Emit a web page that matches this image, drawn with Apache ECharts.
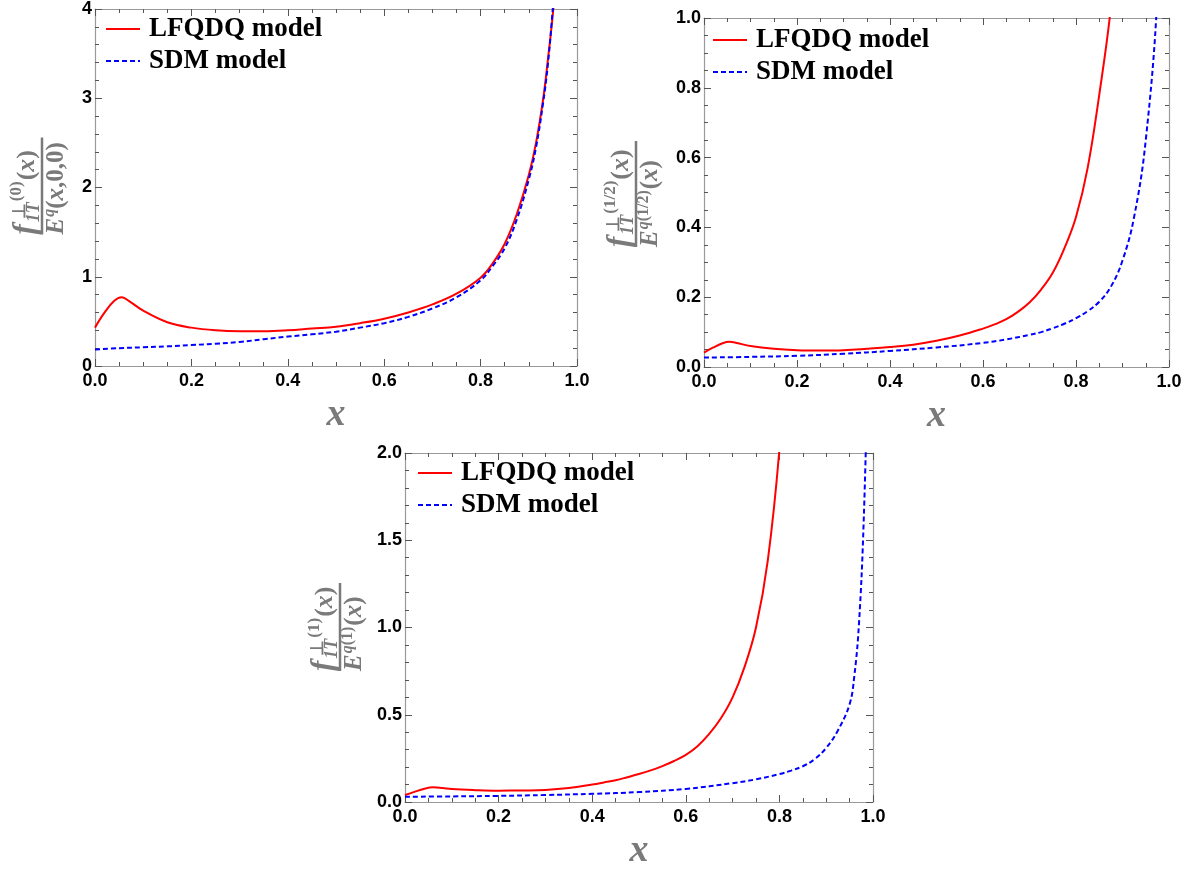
<!DOCTYPE html>
<html>
<head>
<meta charset="utf-8">
<script src="https://cdn.jsdelivr.net/npm/echarts@6/dist/echarts.min.js"></script>
<style>html,body{margin:0;padding:0;background:#fff;}#c{width:1188px;height:873px;}</style>
</head>
<body>
<div id="c"></div>
<script>
// ---------------- DATA ----------------
const seriesNames = ['LFQDQ model', 'SDM model'];
const xTickLabels = ['0.0', '0.2', '0.4', '0.6', '0.8', '1.0'];
const yTickLabels1 = ['0', '1', '2', '3', '4'];
const yTickLabels2 = ['0.0', '0.2', '0.4', '0.6', '0.8', '1.0'];
const yTickLabels3 = ['0.0', '0.5', '1.0', '1.5', '2.0'];

// Panel 1 (ratio with E^q(x,0,0))
const p1RedX = [0, 0.02, 0.04, 0.055, 0.07, 0.1, 0.15, 0.2, 0.25, 0.3, 0.35, 0.4, 0.45, 0.5, 0.55, 0.6, 0.65, 0.7, 0.75, 0.8, 0.825, 0.85, 0.875, 0.9, 0.915, 0.93, 0.94, 0.95, 0.96];
const p1RedY = [0.43, 0.6, 0.73, 0.77, 0.73, 0.62, 0.49, 0.43, 0.40, 0.39, 0.39, 0.40, 0.42, 0.44, 0.48, 0.53, 0.60, 0.69, 0.81, 0.99, 1.15, 1.37, 1.70, 2.14, 2.5, 3.0, 3.45, 3.95, 4.6];
const p1BlueX = [0, 0.05, 0.1, 0.15, 0.2, 0.25, 0.3, 0.35, 0.4, 0.45, 0.5, 0.55, 0.6, 0.65, 0.7, 0.75, 0.8, 0.825, 0.85, 0.875, 0.9, 0.915, 0.93, 0.94, 0.95, 0.96];
const p1BlueY = [0.185, 0.2, 0.21, 0.22, 0.235, 0.25, 0.27, 0.30, 0.33, 0.355, 0.385, 0.43, 0.48, 0.55, 0.645, 0.77, 0.96, 1.12, 1.32, 1.64, 2.09, 2.45, 2.96, 3.4, 4.02, 4.7];

// Panel 2 (ratio with E^q(1/2))
const p2RedX = [0, 0.02, 0.04, 0.055, 0.07, 0.1, 0.15, 0.2, 0.25, 0.3, 0.35, 0.4, 0.45, 0.5, 0.55, 0.6, 0.625, 0.65, 0.675, 0.7, 0.725, 0.75, 0.775, 0.8, 0.825, 0.85, 0.875, 0.9];
const p2RedY = [0.041, 0.056, 0.068, 0.072, 0.069, 0.06, 0.052, 0.048, 0.047, 0.048, 0.052, 0.057, 0.064, 0.075, 0.09, 0.11, 0.122, 0.137, 0.158, 0.185, 0.222, 0.27, 0.34, 0.43, 0.57, 0.78, 1.03, 1.4];
const p2BlueX = [0, 0.1, 0.2, 0.3, 0.4, 0.5, 0.6, 0.65, 0.7, 0.725, 0.75, 0.775, 0.8, 0.825, 0.85, 0.875, 0.9, 0.925, 0.95, 0.975, 1.0];
const p2BlueY = [0.027, 0.029, 0.032, 0.038, 0.046, 0.056, 0.069, 0.079, 0.092, 0.1, 0.111, 0.124, 0.14, 0.16, 0.187, 0.23, 0.305, 0.43, 0.65, 1.06, 1.9];

// Panel 3 (ratio with E^q(1))
const p3RedX = [0, 0.02, 0.04, 0.06, 0.08, 0.1, 0.15, 0.2, 0.25, 0.3, 0.35, 0.4, 0.425, 0.45, 0.475, 0.5, 0.525, 0.55, 0.575, 0.6, 0.625, 0.65, 0.675, 0.7, 0.725, 0.75, 0.775, 0.8, 0.825];
const p3RedY = [0.04, 0.058, 0.075, 0.084, 0.08, 0.074, 0.068, 0.065, 0.066, 0.069, 0.08, 0.1, 0.112, 0.125, 0.142, 0.16, 0.181, 0.206, 0.235, 0.27, 0.32, 0.39, 0.48, 0.6, 0.77, 1.0, 1.38, 2.02, 3.0];
const p3BlueX = [0, 0.1, 0.2, 0.3, 0.4, 0.5, 0.6, 0.7, 0.75, 0.8, 0.825, 0.85, 0.875, 0.9, 0.925, 0.95, 0.96, 0.97, 0.98, 0.99];
const p3BlueY = [0.03, 0.032, 0.035, 0.04, 0.047, 0.057, 0.075, 0.108, 0.13, 0.16, 0.18, 0.205, 0.245, 0.31, 0.41, 0.56, 0.72, 1.02, 1.6, 2.6];

// ---------------- LAYOUT ----------------
const panels = [
  { left: 95, top: 6, width: 482, height: 360, yMax: 4, yInt: 1, yMinor: 5, yLabels: yTickLabels1,
    red: [p1RedX, p1RedY], blue: [p1BlueX, p1BlueY], legendLeft: 105, legendTop: 14,
    frac: { cx: 42, cy: 186, L: 97, sup: '(0)', den: 'x0' } },
  { left: 704, top: 18, width: 465, height: 349, yMax: 1, yInt: 0.2, yMinor: 4, yLabels: yTickLabels2,
    red: [p2RedX, p2RedY], blue: [p2BlueX, p2BlueY], legendLeft: 712, legendTop: 25,
    frac: { cx: 636, cy: 194, L: 106, sup: '(1/2)', den: '(1/2)' } },
  { left: 405, top: 453, width: 468, height: 349, yMax: 2, yInt: 0.5, yMinor: 5, yLabels: yTickLabels3,
    red: [p3RedX, p3RedY], blue: [p3BlueX, p3BlueY], legendLeft: 417, legendTop: 458,
    frac: { cx: 340, cy: 627, L: 88, sup: '(1)', den: '(1)' } }
];

const FRAME = '#9a9a9a', TICK = '#555', GRAY = '#7a7a7a';
const SERIF = "'Liberation Serif'";

const zip = (xs, ys) => xs.map((x, i) => [x, ys[i]]);

const grid = [], xAxis = [], yAxis = [], series = [], legend = [], graphic = [];

panels.forEach((p, gi) => {
  grid.push({ left: p.left, top: p.top, width: p.width, height: p.height, containLabel: false });
  const common = (minorSplit) => ({
    axisLine: { show: true, onZero: false, lineStyle: { color: FRAME, width: 1.2 } },
    axisTick: { show: true, inside: true, length: 7, lineStyle: { color: TICK, width: 1 } },
    minorTick: { show: true, splitNumber: minorSplit, length: 4, lineStyle: { color: TICK, width: 1 } },
    splitLine: { show: false }, minorSplitLine: { show: false }
  });
  const tickFont = { color: '#000', fontFamily: "'Liberation Sans'", fontWeight: 'bold', fontSize: 18 };
  xAxis.push(Object.assign({
    type: 'value', gridIndex: gi, position: 'bottom', min: 0, max: 1, interval: 0.2,
    axisLabel: Object.assign({ show: true, margin: 6, showMinLabel: true, showMaxLabel: true,
      formatter: v => xTickLabels[Math.round(v / 0.2)] }, tickFont),
    name: 'x', nameLocation: 'middle', nameGap: 30,
    nameTextStyle: { fontFamily: SERIF, fontStyle: 'italic', fontWeight: 'bold', fontSize: 38, color: GRAY }
  }, common(4)));
  xAxis.push(Object.assign({
    type: 'value', gridIndex: gi, position: 'top', min: 0, max: 1, interval: 0.2,
    axisLabel: { show: false }
  }, common(4)));
  yAxis.push(Object.assign({
    type: 'value', gridIndex: gi, position: 'left', min: 0, max: p.yMax, interval: p.yInt,
    axisLabel: Object.assign({ show: true, margin: 3, showMinLabel: true, showMaxLabel: true,
      formatter: v => p.yLabels[Math.round(v / p.yInt)] }, tickFont)
  }, common(p.yMinor)));
  yAxis.push(Object.assign({
    type: 'value', gridIndex: gi, position: 'right', min: 0, max: p.yMax, interval: p.yInt,
    axisLabel: { show: false }
  }, common(p.yMinor)));

  series.push({
    type: 'line', name: seriesNames[0], xAxisIndex: gi * 2, yAxisIndex: gi * 2,
    data: zip(p.red[0], p.red[1]), symbol: 'none', showSymbol: false, smooth: 0.4, clip: true,
    lineStyle: { color: '#ff0000', width: 2 }, itemStyle: { color: '#ff0000' }
  });
  series.push({
    type: 'line', name: seriesNames[1], xAxisIndex: gi * 2, yAxisIndex: gi * 2,
    data: zip(p.blue[0], p.blue[1]), symbol: 'none', showSymbol: false, smooth: 0.4, clip: true,
    lineStyle: { color: '#0000ff', width: 2, type: [5, 3] }, itemStyle: { color: '#0000ff' }
  });

  legend.push({
    data: seriesNames, orient: 'vertical', left: p.legendLeft, top: p.legendTop, padding: 0,
    itemWidth: 34, itemHeight: 14, itemGap: 2, selectedMode: false,
    itemStyle: { opacity: 0 },
    textStyle: { fontFamily: SERIF, fontWeight: 'bold', fontSize: 27, color: '#000', lineHeight: 30, padding: [0, 0, 0, 4] }
  });

  graphic.push(makeFrac(p.frac));
});

// --------- y-axis title (fraction), built as real text ---------
function measure(t, s, it) {
  const ctx = measure.ctx || (measure.ctx = document.createElement('canvas').getContext('2d'));
  ctx.font = (it ? 'italic ' : '') + 'bold ' + s + 'px ' + SERIF;
  return ctx.measureText(t).width;
}
function tok(t, s, it, base, x) {
  return { type: 'text', x: x, y: base - 0.33 * s,
    style: { text: t, font: (it ? 'italic ' : '') + 'bold ' + s + 'px ' + SERIF, fill: GRAY,
      align: 'left', verticalAlign: 'middle', textAlign: 'left', textVerticalAlign: 'middle' } };
}
function makeFrac(f) {
  const ch = [];
  const L = f.L;
  // numerator: f, (⊥ over 1T), superscript, (x)
  let x = -L / 2;
  ch.push(tok('f', 31, true, -6, x)); x += measure('f', 31, true) + 2;
  const w1T = measure('1T', 18, true);
  ch.push(tok('1T', 18, true, -2, x));
  ch.push(tok('\u22A5', 18, false, -16, x + w1T / 2 - measure('\u22A5', 18, false) / 2 + 1));
  x += w1T + 1;
  ch.push(tok(f.sup, 17, false, -20, x)); x += measure(f.sup, 17, false) + 1;
  ch.push(tok('(', 26, false, -6, x)); x += measure('(', 26, false);
  ch.push(tok('x', 26, true, -6, x)); x += measure('x', 26, true);
  ch.push(tok(')', 26, false, -6, x));
  // denominator: E^q(...)(...)
  let d = -L / 2;
  ch.push(tok('E', 25, true, 23, d)); d += measure('E', 25, true) + 1;
  ch.push(tok('q', 16, true, 13, d)); d += measure('q', 16, true);
  if (f.den === 'x0') {
    ch.push(tok('(', 25, false, 23, d)); d += measure('(', 25, false);
    ch.push(tok('x', 25, true, 23, d)); d += measure('x', 25, true);
    ch.push(tok(',0,0)', 25, false, 23, d));
  } else {
    ch.push(tok(f.den, 16, false, 13, d)); d += measure(f.den, 16, false) + 1;
    ch.push(tok('(', 25, false, 23, d)); d += measure('(', 25, false);
    ch.push(tok('x', 25, true, 23, d)); d += measure('x', 25, true);
    ch.push(tok(')', 25, false, 23, d));
  }
  ch.push({ type: 'rect', shape: { x: -L / 2, y: -1.25, width: L, height: 2.5 }, style: { fill: GRAY } });
  return { type: 'group', x: f.cx, y: f.cy, rotation: Math.PI / 2, children: ch, silent: true };
}

const chart = echarts.init(document.getElementById('c'), null, { renderer: 'canvas' });
chart.setOption({
  animation: false, backgroundColor: '#fff',
  grid, xAxis, yAxis, series, legend, graphic
});
</script>
</body>
</html>
